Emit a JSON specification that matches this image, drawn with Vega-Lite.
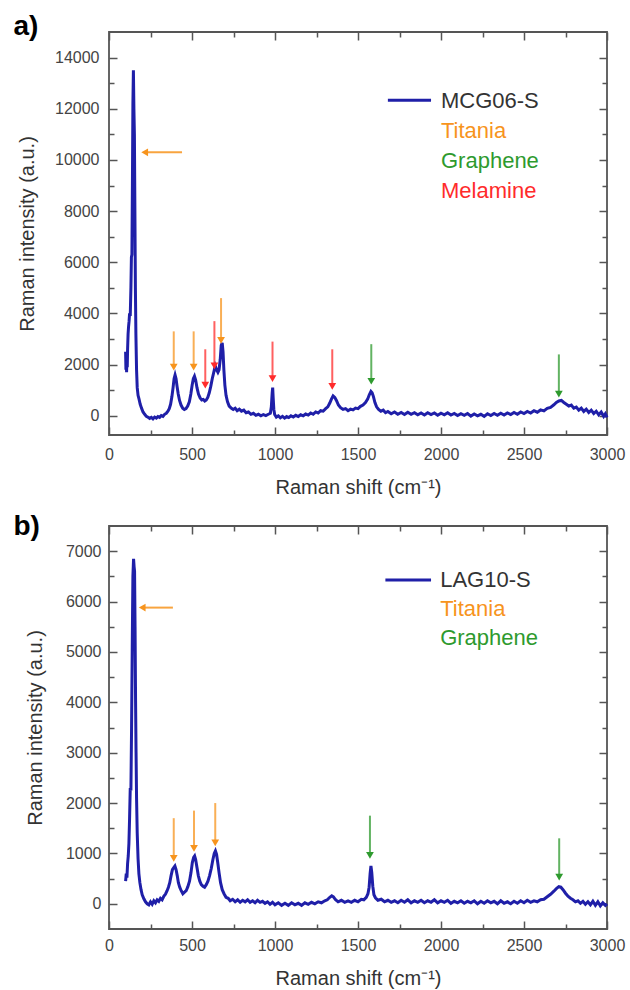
{
  "$schema": "https://vega.github.io/schema/vega-lite/v6.json",
  "padding": {"left": 12, "top": 12, "right": 5, "bottom": 0},
  "spacing": 14,
  "config": {
    "font": "Liberation Sans",
    "view": {"stroke": "#555555", "strokeWidth": 1.8},
    "axis": {
      "domain": false, "grid": false,
      "labelColor": "#444444", "titleColor": "#333333",
      "labelFontSize": 16, "titleFontSize": 20, "titleFontWeight": "normal",
      "labelFont": "Liberation Sans", "titleFont": "Liberation Sans",
      "tickColor": "#555555", "tickWidth": 1.5,
      "labelOverlap": false, "labelFlush": false
    }
  },
  "datasets": {
    "specA": [
      {"x":100,"y":2500},{"x":102,"y":1800},{"x":104,"y":2400},{"x":106,"y":1700},{"x":108,"y":2300},{"x":110,"y":1900},{"x":112,"y":2600},{"x":115,"y":3200},{"x":118,"y":3500},{"x":121,"y":3700},{"x":124,"y":4000},{"x":128,"y":3900},{"x":132,"y":5000},{"x":135,"y":6200},{"x":138,"y":6300},{"x":141,"y":9000},{"x":144,"y":12200},{"x":147,"y":13500},{"x":150,"y":12000},{"x":153,"y":11000},{"x":156,"y":8000},{"x":159,"y":5000},{"x":162,"y":3200},{"x":166,"y":1800},{"x":170,"y":1100},{"x":175,"y":800},{"x":181,"y":650},{"x":188,"y":450},{"x":196,"y":300},{"x":205,"y":150},{"x":215,"y":60},{"x":225,"y":-20},{"x":235,"y":-60},{"x":245,"y":-100},{"x":255,"y":-60},{"x":265,"y":-120},{"x":275,"y":-50},{"x":285,"y":-90},{"x":295,"y":-30},{"x":305,"y":-60},{"x":315,"y":10},{"x":325,"y":-20},{"x":335,"y":60},{"x":345,"y":100},{"x":355,"y":180},{"x":363,"y":280},{"x":371,"y":450},{"x":379,"y":750},{"x":386,"y":1100},{"x":392,"y":1450},{"x":398,"y":1600},{"x":404,"y":1450},{"x":410,"y":1150},{"x":417,"y":850},{"x":425,"y":600},{"x":434,"y":420},{"x":444,"y":300},{"x":454,"y":250},{"x":464,"y":280},{"x":474,"y":380},{"x":484,"y":550},{"x":493,"y":850},{"x":501,"y":1200},{"x":508,"y":1450},{"x":515,"y":1550},{"x":522,"y":1400},{"x":530,"y":1100},{"x":539,"y":850},{"x":549,"y":700},{"x":559,"y":620},{"x":568,"y":640},{"x":577,"y":580},{"x":586,"y":620},{"x":595,"y":720},{"x":604,"y":900},{"x":613,"y":1150},{"x":622,"y":1450},{"x":631,"y":1700},{"x":640,"y":1950},{"x":648,"y":1800},{"x":656,"y":1700},{"x":663,"y":1800},{"x":670,"y":2200},{"x":676,"y":2750},{"x":682,"y":2850},{"x":687,"y":2500},{"x":692,"y":1800},{"x":698,"y":1200},{"x":705,"y":800},{"x":714,"y":550},{"x":724,"y":380},{"x":736,"y":300},{"x":748,"y":250},{"x":760,"y":300},{"x":772,"y":200},{"x":785,"y":260},{"x":798,"y":180},{"x":812,"y":220},{"x":826,"y":120},{"x":840,"y":150},{"x":855,"y":60},{"x":870,"y":100},{"x":885,"y":20},{"x":900,"y":60},{"x":915,"y":0},{"x":930,"y":50},{"x":945,"y":10},{"x":960,"y":60},{"x":972,"y":100},{"x":978,"y":350},{"x":983,"y":900},{"x":986,"y":1100},{"x":989,"y":700},{"x":993,"y":250},{"x":998,"y":50},{"x":1008,"y":-50},{"x":1020,"y":0},{"x":1032,"y":-80},{"x":1045,"y":-20},{"x":1058,"y":-90},{"x":1070,"y":-30},{"x":1083,"y":-70},{"x":1096,"y":0},{"x":1110,"y":-50},{"x":1125,"y":20},{"x":1140,"y":-30},{"x":1155,"y":40},{"x":1170,"y":0},{"x":1185,"y":70},{"x":1200,"y":30},{"x":1215,"y":110},{"x":1230,"y":60},{"x":1245,"y":150},{"x":1260,"y":110},{"x":1275,"y":200},{"x":1290,"y":180},{"x":1305,"y":280},{"x":1318,"y":350},{"x":1330,"y":500},{"x":1340,"y":650},{"x":1350,"y":780},{"x":1360,"y":720},{"x":1370,"y":600},{"x":1382,"y":420},{"x":1395,"y":320},{"x":1410,"y":250},{"x":1425,"y":280},{"x":1440,"y":200},{"x":1455,"y":260},{"x":1470,"y":230},{"x":1485,"y":300},{"x":1500,"y":280},{"x":1515,"y":370},{"x":1530,"y":420},{"x":1545,"y":520},{"x":1558,"y":650},{"x":1568,"y":820},{"x":1578,"y":950},{"x":1585,"y":900},{"x":1593,"y":750},{"x":1602,"y":520},{"x":1612,"y":350},{"x":1624,"y":250},{"x":1638,"y":180},{"x":1652,"y":220},{"x":1666,"y":120},{"x":1680,"y":170},{"x":1700,"y":80},{"x":1720,"y":150},{"x":1740,"y":60},{"x":1760,"y":130},{"x":1780,"y":50},{"x":1800,"y":140},{"x":1820,"y":60},{"x":1840,"y":120},{"x":1860,"y":40},{"x":1880,"y":110},{"x":1900,"y":30},{"x":1920,"y":120},{"x":1940,"y":50},{"x":1960,"y":110},{"x":1980,"y":20},{"x":2000,"y":100},{"x":2020,"y":40},{"x":2040,"y":120},{"x":2060,"y":30},{"x":2080,"y":90},{"x":2100,"y":10},{"x":2120,"y":80},{"x":2140,"y":20},{"x":2160,"y":90},{"x":2180,"y":-10},{"x":2200,"y":70},{"x":2220,"y":0},{"x":2240,"y":60},{"x":2260,"y":-20},{"x":2280,"y":80},{"x":2300,"y":10},{"x":2320,"y":90},{"x":2340,"y":20},{"x":2360,"y":100},{"x":2380,"y":30},{"x":2400,"y":110},{"x":2420,"y":50},{"x":2440,"y":130},{"x":2460,"y":60},{"x":2480,"y":150},{"x":2500,"y":90},{"x":2520,"y":170},{"x":2540,"y":110},{"x":2560,"y":200},{"x":2580,"y":140},{"x":2600,"y":230},{"x":2620,"y":190},{"x":2640,"y":290},{"x":2660,"y":330},{"x":2680,"y":430},{"x":2695,"y":520},{"x":2710,"y":580},{"x":2725,"y":600},{"x":2740,"y":520},{"x":2755,"y":450},{"x":2770,"y":380},{"x":2785,"y":420},{"x":2800,"y":300},{"x":2815,"y":340},{"x":2830,"y":220},{"x":2845,"y":300},{"x":2860,"y":170},{"x":2875,"y":260},{"x":2890,"y":130},{"x":2905,"y":220},{"x":2920,"y":90},{"x":2935,"y":180},{"x":2950,"y":40},{"x":2965,"y":150},{"x":2980,"y":-20},{"x":2990,"y":80},{"x":3000,"y":-60}
    ],
    "specB": [
      {"x":100,"y":450},{"x":104,"y":600},{"x":108,"y":520},{"x":112,"y":800},{"x":116,"y":950},{"x":120,"y":1200},{"x":124,"y":1700},{"x":128,"y":2300},{"x":132,"y":2250},{"x":136,"y":3500},{"x":140,"y":5100},{"x":144,"y":6500},{"x":148,"y":6850},{"x":151,"y":6700},{"x":154,"y":6600},{"x":157,"y":5500},{"x":160,"y":4050},{"x":163,"y":3000},{"x":166,"y":2100},{"x":170,"y":1400},{"x":175,"y":900},{"x":180,"y":600},{"x":186,"y":420},{"x":193,"y":280},{"x":200,"y":180},{"x":210,"y":100},{"x":220,"y":40},{"x":230,"y":0},{"x":240,"y":-20},{"x":250,"y":40},{"x":260,"y":-10},{"x":270,"y":60},{"x":280,"y":20},{"x":290,"y":80},{"x":300,"y":50},{"x":310,"y":110},{"x":320,"y":80},{"x":330,"y":150},{"x":340,"y":190},{"x":350,"y":260},{"x":358,"y":330},{"x":366,"y":420},{"x":374,"y":560},{"x":382,"y":680},{"x":390,"y":720},{"x":397,"y":750},{"x":404,"y":680},{"x":411,"y":560},{"x":418,"y":420},{"x":426,"y":330},{"x":435,"y":260},{"x":445,"y":200},{"x":455,"y":230},{"x":465,"y":260},{"x":475,"y":340},{"x":485,"y":450},{"x":494,"y":620},{"x":502,"y":820},{"x":510,"y":920},{"x":516,"y":950},{"x":522,"y":880},{"x":530,"y":720},{"x":538,"y":560},{"x":547,"y":450},{"x":556,"y":380},{"x":566,"y":350},{"x":576,"y":330},{"x":586,"y":380},{"x":596,"y":450},{"x":606,"y":560},{"x":616,"y":700},{"x":626,"y":880},{"x":634,"y":1000},{"x":641,"y":1050},{"x":648,"y":980},{"x":655,"y":820},{"x":663,"y":620},{"x":672,"y":420},{"x":682,"y":280},{"x":693,"y":200},{"x":705,"y":130},{"x":718,"y":110},{"x":730,"y":60},{"x":745,"y":90},{"x":760,"y":40},{"x":775,"y":80},{"x":790,"y":30},{"x":805,"y":70},{"x":820,"y":40},{"x":835,"y":80},{"x":850,"y":30},{"x":865,"y":60},{"x":880,"y":20},{"x":895,"y":70},{"x":910,"y":30},{"x":925,"y":50},{"x":940,"y":10},{"x":955,"y":40},{"x":970,"y":-10},{"x":985,"y":30},{"x":1000,"y":-20},{"x":1020,"y":20},{"x":1040,"y":-30},{"x":1060,"y":10},{"x":1080,"y":-30},{"x":1100,"y":20},{"x":1120,"y":-20},{"x":1140,"y":10},{"x":1160,"y":-30},{"x":1180,"y":20},{"x":1200,"y":-10},{"x":1220,"y":30},{"x":1240,"y":0},{"x":1260,"y":40},{"x":1280,"y":20},{"x":1300,"y":60},{"x":1315,"y":80},{"x":1330,"y":130},{"x":1342,"y":160},{"x":1352,"y":140},{"x":1365,"y":80},{"x":1380,"y":40},{"x":1400,"y":70},{"x":1420,"y":30},{"x":1440,"y":60},{"x":1460,"y":30},{"x":1480,"y":70},{"x":1500,"y":40},{"x":1520,"y":90},{"x":1535,"y":80},{"x":1550,"y":130},{"x":1560,"y":200},{"x":1567,"y":330},{"x":1573,"y":600},{"x":1578,"y":750},{"x":1583,"y":620},{"x":1589,"y":350},{"x":1596,"y":180},{"x":1605,"y":120},{"x":1620,"y":70},{"x":1640,"y":90},{"x":1660,"y":40},{"x":1680,"y":70},{"x":1700,"y":30},{"x":1720,"y":60},{"x":1740,"y":20},{"x":1760,"y":70},{"x":1780,"y":30},{"x":1800,"y":80},{"x":1820,"y":20},{"x":1840,"y":60},{"x":1860,"y":30},{"x":1880,"y":70},{"x":1900,"y":20},{"x":1920,"y":60},{"x":1940,"y":30},{"x":1960,"y":80},{"x":1980,"y":20},{"x":2000,"y":60},{"x":2020,"y":30},{"x":2040,"y":70},{"x":2060,"y":10},{"x":2080,"y":50},{"x":2100,"y":20},{"x":2120,"y":60},{"x":2140,"y":10},{"x":2160,"y":50},{"x":2180,"y":20},{"x":2200,"y":60},{"x":2220,"y":0},{"x":2240,"y":50},{"x":2260,"y":10},{"x":2280,"y":60},{"x":2300,"y":20},{"x":2320,"y":50},{"x":2340,"y":0},{"x":2360,"y":60},{"x":2380,"y":10},{"x":2400,"y":40},{"x":2420,"y":0},{"x":2440,"y":50},{"x":2460,"y":10},{"x":2480,"y":60},{"x":2500,"y":20},{"x":2520,"y":70},{"x":2540,"y":30},{"x":2560,"y":60},{"x":2580,"y":40},{"x":2600,"y":80},{"x":2620,"y":90},{"x":2640,"y":140},{"x":2660,"y":190},{"x":2680,"y":250},{"x":2695,"y":300},{"x":2710,"y":340},{"x":2722,"y":330},{"x":2735,"y":280},{"x":2750,"y":210},{"x":2765,"y":150},{"x":2780,"y":110},{"x":2795,"y":80},{"x":2810,"y":40},{"x":2825,"y":60},{"x":2840,"y":10},{"x":2855,"y":50},{"x":2870,"y":-10},{"x":2885,"y":40},{"x":2900,"y":-20},{"x":2915,"y":50},{"x":2930,"y":-30},{"x":2945,"y":40},{"x":2960,"y":-40},{"x":2975,"y":20},{"x":2990,"y":-30},{"x":3000,"y":0}
    ],
    "arrA": [
      {"x":390,"top":3300,"tip":1900,"cat":"Titania"},
      {"x":510,"top":3300,"tip":1900,"cat":"Titania"},
      {"x":675,"top":4600,"tip":2950,"cat":"Titania"},
      {"x":580,"top":2600,"tip":1200,"cat":"Melamine"},
      {"x":635,"top":3700,"tip":1950,"cat":"Melamine"},
      {"x":985,"top":2900,"tip":1450,"cat":"Melamine"},
      {"x":1345,"top":2600,"tip":1150,"cat":"Melamine"},
      {"x":1580,"top":2800,"tip":1350,"cat":"Graphene"},
      {"x":2710,"top":2400,"tip":850,"cat":"Graphene"}
    ],
    "harrA": [{"x1":440,"x2":215,"y":10300,"cat":"Titania"}],
    "legA": [
      {"x":2000,"y":12300,"label":"MCG06-S","cat":"Sample"},
      {"x":2000,"y":11150,"label":"Titania","cat":"Titania"},
      {"x":2000,"y":9950,"label":"Graphene","cat":"Graphene"},
      {"x":2000,"y":8780,"label":"Melamine","cat":"Melamine"}
    ],
    "legLineA": [{"x1":1680,"x2":1940,"y":12330}],
    "arrB": [
      {"x":390,"top":1700,"tip":900,"cat":"Titania"},
      {"x":512,"top":1850,"tip":1100,"cat":"Titania"},
      {"x":640,"top":2000,"tip":1210,"cat":"Titania"},
      {"x":1572,"top":1750,"tip":960,"cat":"Graphene"},
      {"x":2712,"top":1300,"tip":530,"cat":"Graphene"}
    ],
    "harrB": [{"x1":385,"x2":200,"y":5880,"cat":"Titania"}],
    "legB": [
      {"x":1995,"y":6420,"label":"LAG10-S","cat":"Sample"},
      {"x":1995,"y":5860,"label":"Titania","cat":"Titania"},
      {"x":1995,"y":5280,"label":"Graphene","cat":"Graphene"}
    ],
    "legLineB": [{"x1":1665,"x2":1940,"y":6430}]
  },
  "vconcat": [
    {
      "width": 498, "height": 403,
      "title": {"text": "a)", "anchor": "start", "frame": "bounds", "fontSize": 28, "fontWeight": "bold", "color": "#000000", "offset": -10, "dx": -4},
      "resolve": {"axis": {"x": "independent", "y": "independent"}},
      "layer": [
        {
          "data": {"name": "specA"},
          "mark": {"type": "line", "color": "#1f1fa8", "strokeWidth": 3},
          "encoding": {
            "x": {"field": "x", "type": "quantitative", "scale": {"domain": [0, 3000], "nice": false, "zero": false},
              "axis": {"orient": "bottom", "values": [0,250,500,750,1000,1250,1500,1750,2000,2250,2500,2750,3000], "format": "d",
                "labelExpr": "datum.value % 500 === 0 ? datum.label : ''",
                "tickSize": {"condition": {"test": "datum.value % 500 === 0", "value": -8}, "value": -5},
                "labelPadding": 19, "title": "Raman shift (cm⁻¹)", "titlePadding": 12}},
            "y": {"field": "y", "type": "quantitative", "scale": {"domain": [-750, 15000], "nice": false, "zero": false},
              "axis": {"orient": "left", "values": [0,1000,2000,3000,4000,5000,6000,7000,8000,9000,10000,11000,12000,13000,14000], "format": "d",
                "labelExpr": "datum.value % 2000 === 0 ? datum.label : ''",
                "tickSize": {"condition": {"test": "datum.value % 2000 === 0", "value": -8}, "value": -5},
                "labelPadding": 18, "title": "Raman intensity (a.u.)", "titlePadding": 17}}
          }
        },
        {
          "data": {"name": "arrA"},
          "mark": {"type": "rule", "strokeWidth": 2, "opacity": 0.75},
          "encoding": {
            "x": {"field": "x", "type": "quantitative", "scale": {"domain": [0, 3000], "nice": false, "zero": false},
              "axis": {"orient": "top", "values": [0,250,500,750,1000,1250,1500,1750,2000,2250,2500,2750,3000], "labels": false, "title": null,
                "tickSize": {"condition": {"test": "datum.value % 500 === 0", "value": -8}, "value": -5}}},
            "y": {"field": "top", "type": "quantitative", "scale": {"domain": [-750, 15000], "nice": false, "zero": false},
              "axis": {"orient": "right", "values": [0,1000,2000,3000,4000,5000,6000,7000,8000,9000,10000,11000,12000,13000,14000], "labels": false, "title": null,
                "tickSize": {"condition": {"test": "datum.value % 2000 === 0", "value": -8}, "value": -5}}},
            "y2": {"field": "tip"},
            "color": {"field": "cat", "type": "nominal", "legend": null,
              "scale": {"domain": ["Sample", "Titania", "Graphene", "Melamine"], "range": ["#333333", "#f7941d", "#2e9a2e", "#ff2b2b"]}}
          }
        },
        {
          "data": {"name": "arrA"},
          "mark": {"type": "point", "shape": "triangle-down", "filled": true, "size": 60, "opacity": 1},
          "encoding": {
            "x": {"field": "x", "type": "quantitative", "axis": null},
            "y": {"field": "tip", "type": "quantitative", "axis": null},
            "color": {"field": "cat", "type": "nominal", "legend": null,
              "scale": {"domain": ["Sample", "Titania", "Graphene", "Melamine"], "range": ["#333333", "#f7941d", "#2e9a2e", "#ff2b2b"]}}
          }
        },
        {
          "data": {"name": "harrA"},
          "mark": {"type": "rule", "strokeWidth": 2, "opacity": 0.85},
          "encoding": {
            "x": {"field": "x1", "type": "quantitative", "axis": null},
            "x2": {"field": "x2"},
            "y": {"field": "y", "type": "quantitative", "axis": null},
            "color": {"field": "cat", "type": "nominal", "legend": null,
              "scale": {"domain": ["Sample", "Titania", "Graphene", "Melamine"], "range": ["#333333", "#f7941d", "#2e9a2e", "#ff2b2b"]}}
          }
        },
        {
          "data": {"name": "harrA"},
          "mark": {"type": "point", "shape": "triangle-left", "filled": true, "size": 60, "opacity": 1},
          "encoding": {
            "x": {"field": "x2", "type": "quantitative", "axis": null},
            "y": {"field": "y", "type": "quantitative", "axis": null},
            "color": {"field": "cat", "type": "nominal", "legend": null,
              "scale": {"domain": ["Sample", "Titania", "Graphene", "Melamine"], "range": ["#333333", "#f7941d", "#2e9a2e", "#ff2b2b"]}}
          }
        },
        {
          "data": {"name": "legLineA"},
          "mark": {"type": "rule", "strokeWidth": 3, "color": "#1f1fa8"},
          "encoding": {
            "x": {"field": "x1", "type": "quantitative", "axis": null},
            "x2": {"field": "x2"},
            "y": {"field": "y", "type": "quantitative", "axis": null}
          }
        },
        {
          "data": {"name": "legA"},
          "mark": {"type": "text", "align": "left", "baseline": "middle", "fontSize": 22},
          "encoding": {
            "x": {"field": "x", "type": "quantitative", "axis": null},
            "y": {"field": "y", "type": "quantitative", "axis": null},
            "text": {"field": "label"},
            "color": {"field": "cat", "type": "nominal", "legend": null,
              "scale": {"domain": ["Sample", "Titania", "Graphene", "Melamine"], "range": ["#333333", "#f7941d", "#2e9a2e", "#ff2b2b"]}}
          }
        }
      ]
    },
    {
      "width": 498, "height": 403,
      "title": {"text": "b)", "anchor": "start", "frame": "bounds", "fontSize": 28, "fontWeight": "bold", "color": "#000000", "offset": -16, "dx": -12},
      "resolve": {"axis": {"x": "independent", "y": "independent"}},
      "layer": [
        {
          "data": {"name": "specB"},
          "mark": {"type": "line", "color": "#1f1fa8", "strokeWidth": 3},
          "encoding": {
            "x": {"field": "x", "type": "quantitative", "scale": {"domain": [0, 3000], "nice": false, "zero": false},
              "axis": {"orient": "bottom", "values": [0,250,500,750,1000,1250,1500,1750,2000,2250,2500,2750,3000], "format": "d",
                "labelExpr": "datum.value % 500 === 0 ? datum.label : ''",
                "tickSize": {"condition": {"test": "datum.value % 500 === 0", "value": -8}, "value": -5},
                "labelPadding": 16, "title": "Raman shift (cm⁻¹)", "titlePadding": 12}},
            "y": {"field": "y", "type": "quantitative", "scale": {"domain": [-500, 7500], "nice": false, "zero": false},
              "axis": {"orient": "left", "values": [0,500,1000,1500,2000,2500,3000,3500,4000,4500,5000,5500,6000,6500,7000], "format": "d",
                "labelExpr": "datum.value % 1000 === 0 ? datum.label : ''",
                "tickSize": {"condition": {"test": "datum.value % 1000 === 0", "value": -8}, "value": -5},
                "labelPadding": 16, "title": "Raman intensity (a.u.)", "titlePadding": 20}}
          }
        },
        {
          "data": {"name": "arrB"},
          "mark": {"type": "rule", "strokeWidth": 2, "opacity": 0.75},
          "encoding": {
            "x": {"field": "x", "type": "quantitative", "scale": {"domain": [0, 3000], "nice": false, "zero": false},
              "axis": {"orient": "top", "values": [0,250,500,750,1000,1250,1500,1750,2000,2250,2500,2750,3000], "labels": false, "title": null,
                "tickSize": {"condition": {"test": "datum.value % 500 === 0", "value": -8}, "value": -5}}},
            "y": {"field": "top", "type": "quantitative", "scale": {"domain": [-500, 7500], "nice": false, "zero": false},
              "axis": {"orient": "right", "values": [0,500,1000,1500,2000,2500,3000,3500,4000,4500,5000,5500,6000,6500,7000], "labels": false, "title": null,
                "tickSize": {"condition": {"test": "datum.value % 1000 === 0", "value": -8}, "value": -5}}},
            "y2": {"field": "tip"},
            "color": {"field": "cat", "type": "nominal", "legend": null,
              "scale": {"domain": ["Sample", "Titania", "Graphene", "Melamine"], "range": ["#333333", "#f7941d", "#2e9a2e", "#ff2b2b"]}}
          }
        },
        {
          "data": {"name": "arrB"},
          "mark": {"type": "point", "shape": "triangle-down", "filled": true, "size": 60, "opacity": 1},
          "encoding": {
            "x": {"field": "x", "type": "quantitative", "axis": null},
            "y": {"field": "tip", "type": "quantitative", "axis": null},
            "color": {"field": "cat", "type": "nominal", "legend": null,
              "scale": {"domain": ["Sample", "Titania", "Graphene", "Melamine"], "range": ["#333333", "#f7941d", "#2e9a2e", "#ff2b2b"]}}
          }
        },
        {
          "data": {"name": "harrB"},
          "mark": {"type": "rule", "strokeWidth": 2, "opacity": 0.85},
          "encoding": {
            "x": {"field": "x1", "type": "quantitative", "axis": null},
            "x2": {"field": "x2"},
            "y": {"field": "y", "type": "quantitative", "axis": null},
            "color": {"field": "cat", "type": "nominal", "legend": null,
              "scale": {"domain": ["Sample", "Titania", "Graphene", "Melamine"], "range": ["#333333", "#f7941d", "#2e9a2e", "#ff2b2b"]}}
          }
        },
        {
          "data": {"name": "harrB"},
          "mark": {"type": "point", "shape": "triangle-left", "filled": true, "size": 60, "opacity": 1},
          "encoding": {
            "x": {"field": "x2", "type": "quantitative", "axis": null},
            "y": {"field": "y", "type": "quantitative", "axis": null},
            "color": {"field": "cat", "type": "nominal", "legend": null,
              "scale": {"domain": ["Sample", "Titania", "Graphene", "Melamine"], "range": ["#333333", "#f7941d", "#2e9a2e", "#ff2b2b"]}}
          }
        },
        {
          "data": {"name": "legLineB"},
          "mark": {"type": "rule", "strokeWidth": 3, "color": "#1f1fa8"},
          "encoding": {
            "x": {"field": "x1", "type": "quantitative", "axis": null},
            "x2": {"field": "x2"},
            "y": {"field": "y", "type": "quantitative", "axis": null}
          }
        },
        {
          "data": {"name": "legB"},
          "mark": {"type": "text", "align": "left", "baseline": "middle", "fontSize": 22},
          "encoding": {
            "x": {"field": "x", "type": "quantitative", "axis": null},
            "y": {"field": "y", "type": "quantitative", "axis": null},
            "text": {"field": "label"},
            "color": {"field": "cat", "type": "nominal", "legend": null,
              "scale": {"domain": ["Sample", "Titania", "Graphene", "Melamine"], "range": ["#333333", "#f7941d", "#2e9a2e", "#ff2b2b"]}}
          }
        }
      ]
    }
  ]
}
